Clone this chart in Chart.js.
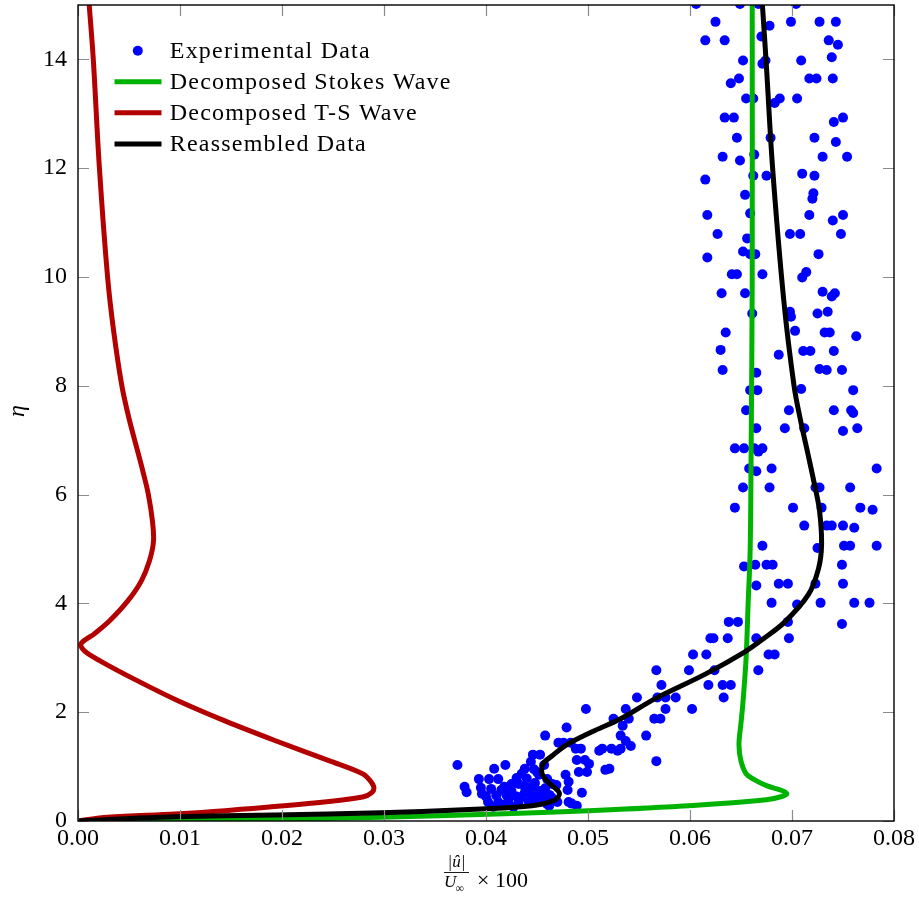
<!DOCTYPE html>
<html>
<head>
<meta charset="utf-8">
<script src="https://cdn.jsdelivr.net/npm/chart.js@4.4.0/dist/chart.umd.min.js"></script>
<style>
  html, body { margin: 0; padding: 0; background: #fff; }
</style>
</head>
<body>
<canvas id="profileChart" width="919" height="903"></canvas>
<script>
// axis ticks
const xTicks = [0, 0.01, 0.02, 0.03, 0.04, 0.05, 0.06, 0.07, 0.08];
const yTicks = [0, 2, 4, 6, 8, 10, 12, 14];

// experimental data, one line per measuring height (eta / |u|)
const expEta = [
  15.02, 15.02, 15.02, 15.02,
  14.69, 14.69, 14.69, 14.69, 14.62,
  14.35, 14.35, 14.35, 14.42, 14.27,
  13.98, 13.98, 13.98, 13.92, 14.04,
  13.65, 13.65, 13.65, 13.65, 13.56,
  13.28, 13.28, 13.28, 13.28, 13.20,
  12.93, 12.93, 12.93, 12.85,
  12.56, 12.56, 12.56, 12.48,
  12.21, 12.21, 12.21, 12.14, 12.25,
  11.86, 11.86, 11.86, 11.79, 11.90,
  11.51, 11.54, 11.44,
  11.14, 11.14, 11.14, 11.17, 11.04,
  10.79, 10.79, 10.79, 10.79, 10.71,
  10.42, 10.42, 10.42, 10.36, 10.47,
  10.05, 10.05, 10.05, 9.99, 10.09,
  9.70, 9.70, 9.70, 9.73, 9.64,
  9.33, 9.33, 9.36, 9.36, 9.27,
  8.98, 8.98, 8.98, 9.01, 8.91,
  8.64, 8.64, 8.64, 8.66, 8.57,
  8.29, 8.29, 8.29, 8.24, 8.31,
  7.92, 7.92, 7.92, 7.94,
  7.55, 7.55, 7.55, 7.55, 7.50,
  7.22, 7.22, 7.22, 7.22, 7.17,
  6.85, 6.85, 6.85, 6.85, 6.79,
  6.48, 6.48, 6.48, 6.43,
  6.13, 6.13, 6.13, 6.13, 6.13,
  5.76, 5.76, 5.76, 5.76, 5.72,
  5.43, 5.43, 5.43, 5.43, 5.39,
  5.06, 5.06, 5.06, 5.06, 5.02,
  4.71, 4.71, 4.71, 4.71, 4.68,
  4.36, 4.36, 4.36, 4.36, 4.33,
  4.01, 4.01, 4.01, 4.01, 3.98,
  3.66, 3.66, 3.66, 3.62,
  3.36, 3.36, 3.36, 3.36, 3.36,
  3.06, 3.06, 3.06, 3.06,
  2.77, 2.77, 2.77, 2.77,
  2.50, 2.50, 2.50, 2.50,
  2.27, 2.27, 2.27, 2.27, 2.27,
  2.06, 2.06, 2.06, 2.06,
  1.88, 1.88, 1.88, 1.88,
  1.72, 1.75, 1.57, 1.57, 1.57,
  1.44, 1.44, 1.44, 1.47,
  1.33, 1.33, 1.33, 1.33, 1.33, 1.38,
  1.22, 1.22, 1.29, 1.29,
  1.12, 1.12, 1.09, 1.10,
  1.03, 1.03, 1.03, 1.05,
  0.96, 0.96, 0.96, 0.94,
  0.87, 0.85, 0.90, 0.90, 0.90,
  0.77, 0.77, 0.77, 0.77, 0.79,
  0.63, 0.63, 0.63, 0.61, 0.59, 0.68, 0.66, 0.72,
  0.53, 0.53, 0.57, 0.57, 0.52, 0.50, 0.48,
  0.44, 0.44, 0.45, 0.42, 0.60,
  0.35, 0.35, 0.35, 0.35, 0.35, 0.35, 0.35,
  0.39, 0.28, 0.31, 0.26, 0.26, 0.30, 0.32, 0.28,
  0.45, 0.55, 0.70, 0.38, 0.48, 0.52, 0.45, 0.55,
  0.78, 0.85, 0.95, 0.68, 0.47, 0.50, 0.63, 0.68
];
const expX = [
  0.0606, 0.0649, 0.0667, 0.0704,
  0.0625, 0.0699, 0.0727, 0.0743, 0.0678,
  0.0615, 0.0634, 0.0736, 0.0670, 0.0745,
  0.0652, 0.0674, 0.0709, 0.0671, 0.0739,
  0.0648, 0.0717, 0.0724, 0.0740, 0.0640,
  0.0655, 0.0662, 0.0688, 0.0705, 0.0683,
  0.0634, 0.0643, 0.0750, 0.0741,
  0.0646, 0.0679, 0.0722, 0.0743,
  0.0632, 0.0730, 0.0754, 0.0649, 0.0663,
  0.0662, 0.0675, 0.0722, 0.0615, 0.0710,
  0.0654, 0.0721, 0.0720,
  0.0617, 0.0717, 0.0750, 0.0659, 0.0740,
  0.0627, 0.0698, 0.0708, 0.0748, 0.0656,
  0.0659, 0.0664, 0.0726, 0.0617, 0.0652,
  0.0641, 0.0646, 0.0671, 0.0710, 0.0714,
  0.0631, 0.0654, 0.0742, 0.0730, 0.0739,
  0.0661, 0.0725, 0.0698, 0.0735, 0.0699,
  0.0635, 0.0732, 0.0737, 0.0703, 0.0763,
  0.0711, 0.0718, 0.0741, 0.0630, 0.0687,
  0.0632, 0.0734, 0.0749, 0.0665, 0.0727,
  0.0659, 0.0666, 0.0760, 0.0709,
  0.0655, 0.0697, 0.0741, 0.0758, 0.0760,
  0.0665, 0.0693, 0.0712, 0.0764, 0.0750,
  0.0644, 0.0653, 0.0663, 0.0671, 0.0667,
  0.0658, 0.0680, 0.0783, 0.0665,
  0.0652, 0.0678, 0.0723, 0.0727, 0.0757,
  0.0644, 0.0701, 0.0729, 0.0767, 0.0779,
  0.0712, 0.0734, 0.0739, 0.0750, 0.0761,
  0.0671, 0.0751, 0.0757, 0.0783, 0.0725,
  0.0664, 0.0675, 0.0681, 0.0749, 0.0653,
  0.0687, 0.0696, 0.0723, 0.0750, 0.0665,
  0.0680, 0.0728, 0.0761, 0.0776, 0.0705,
  0.0638, 0.0647, 0.0696, 0.0749,
  0.0620, 0.0623, 0.0637, 0.0665, 0.0697,
  0.0603, 0.0616, 0.0677, 0.0683,
  0.0567, 0.0599, 0.0624, 0.0667,
  0.0572, 0.0618, 0.0632, 0.0640,
  0.0548, 0.0568, 0.0576, 0.0586, 0.0633,
  0.0498, 0.0537, 0.0576, 0.0602,
  0.0525, 0.0540, 0.0565, 0.0571,
  0.0479, 0.0534, 0.0458, 0.0532, 0.0557,
  0.0471, 0.0476, 0.0483, 0.0537,
  0.0488, 0.0493, 0.0514, 0.0523, 0.0532, 0.0542,
  0.0446, 0.0453, 0.0511, 0.0529,
  0.0489, 0.0497, 0.0444, 0.0567,
  0.0372, 0.0419, 0.0457, 0.0501,
  0.0408, 0.0438, 0.0521, 0.0517,
  0.0435, 0.0478, 0.0491, 0.0499, 0.0450,
  0.0393, 0.0403, 0.0412, 0.0460, 0.0430,
  0.0379, 0.0438, 0.0445, 0.0395, 0.0405, 0.0425, 0.0469, 0.0481,
  0.0381, 0.0455, 0.0415, 0.0480, 0.0494, 0.0443, 0.0420,
  0.0435, 0.0464, 0.0400, 0.0448, 0.0458,
  0.0402, 0.0412, 0.0432, 0.0442, 0.0452, 0.0470, 0.0481,
  0.0422, 0.0489, 0.0460, 0.0407, 0.0427, 0.0418, 0.0484, 0.0462,
  0.0445, 0.0452, 0.0448, 0.0455, 0.0462, 0.0438, 0.0430, 0.0425,
  0.0440, 0.0452, 0.0447, 0.0465, 0.0410, 0.0396, 0.0418, 0.0432
];

// decomposed Stokes wave
const stokesEta = [0, 0.015, 0.04, 0.07, 0.13, 0.19, 0.285, 0.39, 0.45, 0.5, 0.56, 0.65, 0.76, 0.87, 1.1, 1.4, 1.8, 2.2, 3.0, 4.0, 5.0, 7.0, 10.0, 15.0];
const stokesX = [0, 0.010, 0.0227, 0.0297, 0.0410, 0.0501, 0.0603, 0.0675, 0.0690, 0.0695, 0.0690, 0.0675, 0.0663, 0.0655, 0.0650, 0.0648, 0.0650, 0.0652, 0.0655, 0.0657, 0.0659, 0.0660, 0.0661, 0.0661];

// decomposed T-S wave
const tsEta = [0, 0.07, 0.13, 0.19, 0.32, 0.44, 0.52, 0.62, 0.75, 0.87, 1.11, 1.48, 1.84, 2.21, 2.58, 2.94, 3.13, 3.26, 3.44, 3.68, 4.05, 4.41, 4.78, 5.14, 5.51, 6.0, 6.4, 6.83, 7.4, 8.0, 9.0, 10.0, 12.0, 14.0, 15.0];
const tsX = [0, 0.0029, 0.0095, 0.0144, 0.0226, 0.0279, 0.0288, 0.0290, 0.0286, 0.0279, 0.0246, 0.0193, 0.0144, 0.0098, 0.0058, 0.0022, 0.0006, 0.0003, 0.0016, 0.0031, 0.0049, 0.0062, 0.0070, 0.0074, 0.0073, 0.0069, 0.0064, 0.0058, 0.0050, 0.0043, 0.0035, 0.0029, 0.0021, 0.0015, 0.0011];

// reassembled data
const reEta = [0, 0.04, 0.08, 0.11, 0.15, 0.22, 0.28, 0.38, 0.5, 0.6, 0.71, 0.87, 1.05, 1.2, 1.4, 1.64, 1.88, 2.25, 2.7, 3.1, 3.35, 3.66, 4.16, 4.64, 5.08, 5.7, 6.19, 6.8, 7.4, 8.0, 9.56, 12.0, 13.85, 15.0];
const reX = [0, 0.0045, 0.0095, 0.0193, 0.0297, 0.0395, 0.0445, 0.0467, 0.0472, 0.0468, 0.0461, 0.0455, 0.0456, 0.0465, 0.0479, 0.0504, 0.0532, 0.0566, 0.0615, 0.0653, 0.0672, 0.0693, 0.0716, 0.0726, 0.0729, 0.0727, 0.0722, 0.0715, 0.0708, 0.0702, 0.0692, 0.0681, 0.0675, 0.0671];

const BLUE = '#0000ff';
const GREEN = '#00b300';
const RED = '#b30000';
const BLACK = '#000000';
const SERIF = '"Liberation Serif", "Times New Roman", serif';

function pairs(xs, etas) {
  return xs.map((x, i) => ({ x: x, y: etas[i] }));
}

const legendItems = [
  { label: 'Experimental Data', color: BLUE, dot: true },
  { label: 'Decomposed Stokes Wave', color: GREEN },
  { label: 'Decomposed T-S Wave', color: RED },
  { label: 'Reassembled Data', color: BLACK }
];

const decorPlugin = {
  id: 'decor',
  afterDatasetsDraw(chart) {
    const ctx = chart.ctx;
    const a = chart.chartArea;
    const xs = chart.scales.x;
    const ys = chart.scales.y;
    ctx.save();
    // inner ticks on all four sides
    ctx.strokeStyle = '#8c8c8c';
    ctx.lineWidth = 1.2;
    ctx.beginPath();
    xTicks.forEach(v => {
      const px = Math.round(xs.getPixelForValue(v)) + 0.5;
      ctx.moveTo(px, a.bottom); ctx.lineTo(px, a.bottom - 11);
      ctx.moveTo(px, a.top); ctx.lineTo(px, a.top + 11);
    });
    yTicks.forEach(v => {
      const py = Math.round(ys.getPixelForValue(v)) + 0.5;
      ctx.moveTo(a.left, py); ctx.lineTo(a.left + 11, py);
      ctx.moveTo(a.right, py); ctx.lineTo(a.right - 11, py);
    });
    ctx.stroke();
    // frame
    ctx.strokeStyle = '#000';
    ctx.lineWidth = 1.4;
    ctx.strokeRect(a.left, a.top, a.right - a.left, a.bottom - a.top);
    ctx.restore();
  },
  afterDraw(chart) {
    const ctx = chart.ctx;
    ctx.save();
    // legend, inside the plot, top left
    const rows = [50.7, 81.7, 112.8, 144.1];
    ctx.font = '24px ' + SERIF;
    ctx.letterSpacing = '1.2px';
    ctx.textAlign = 'left';
    ctx.textBaseline = 'alphabetic';
    legendItems.forEach((it, i) => {
      const y = rows[i];
      if (it.dot) {
        ctx.fillStyle = it.color;
        ctx.beginPath();
        ctx.arc(137.8, y, 5, 0, Math.PI * 2);
        ctx.fill();
      } else {
        ctx.strokeStyle = it.color;
        ctx.lineWidth = 5;
        ctx.beginPath();
        ctx.moveTo(114.5, y);
        ctx.lineTo(161.5, y);
        ctx.stroke();
      }
      ctx.fillStyle = '#000';
      ctx.fillText(it.label, 169.8, y + 6.8);
    });
    ctx.letterSpacing = '0px';

    // y title
    ctx.save();
    ctx.translate(18, 411);
    ctx.rotate(-Math.PI / 2);
    ctx.font = 'italic 24px ' + SERIF;
    ctx.textAlign = 'center';
    ctx.textBaseline = 'middle';
    ctx.fillStyle = '#000';
    ctx.fillText('η', 0, 0);
    ctx.restore();

    // x title: |u^| / U_inf  x 100
    ctx.fillStyle = '#000';
    ctx.textAlign = 'center';
    ctx.textBaseline = 'alphabetic';
    ctx.font = 'italic 17px ' + SERIF;
    ctx.fillText('|û|', 456.5, 867);
    ctx.strokeStyle = '#000';
    ctx.lineWidth = 0.9;
    ctx.beginPath();
    ctx.moveTo(444, 872.5);
    ctx.lineTo(469, 872.5);
    ctx.stroke();
    ctx.textAlign = 'left';
    ctx.fillText('U', 444, 887);
    ctx.font = '12px ' + SERIF;
    ctx.fillText('∞', 455.5, 892);
    ctx.font = '22px ' + SERIF;
    ctx.fillText('× 100', 477, 887);
    ctx.restore();
  }
};

const ctx = document.getElementById('profileChart').getContext('2d');
const profileChart = new Chart(ctx, {
  type: 'scatter',
  data: {
    datasets: [
      {
        label: 'Experimental Data',
        data: pairs(expX, expEta),
        backgroundColor: BLUE,
        borderColor: BLUE,
        pointRadius: 5,
        pointBorderWidth: 0,
        showLine: false,
        clip: 0,
        order: 4
      },
      {
        label: 'Decomposed Stokes Wave',
        data: pairs(stokesX, stokesEta),
        borderColor: GREEN,
        borderWidth: 5,
        pointRadius: 0,
        showLine: true,
        tension: 0.35,
        clip: 0,
        order: 3
      },
      {
        label: 'Decomposed T-S Wave',
        data: pairs(tsX, tsEta),
        borderColor: RED,
        borderWidth: 5,
        pointRadius: 0,
        showLine: true,
        tension: 0.35,
        clip: 0,
        order: 2
      },
      {
        label: 'Reassembled Data',
        data: pairs(reX, reEta),
        borderColor: BLACK,
        borderWidth: 5,
        pointRadius: 0,
        showLine: true,
        tension: 0.35,
        clip: 0,
        order: 1
      }
    ]
  },
  options: {
    responsive: false,
    animation: false,
    devicePixelRatio: 1,
    layout: { padding: { top: 3, right: 25, left: 0, bottom: 0 } },
    plugins: {
      legend: { display: false },
      tooltip: { enabled: false }
    },
    scales: {
      x: {
        type: 'linear',
        min: 0,
        max: 0.08,
        afterBuildTicks: s => { s.ticks = xTicks.map(v => ({ value: v })); },
        afterFit: s => { s.height = 82; s.paddingLeft = 0; s.paddingRight = 0; },
        grid: { display: false, drawTicks: false },
        border: { display: false },
        ticks: {
          autoSkip: false,
          maxRotation: 0,
          padding: 3,
          color: '#000',
          font: { family: SERIF, size: 24 },
          callback: v => Number(v).toFixed(2)
        }
      },
      y: {
        type: 'linear',
        min: 0,
        max: 15,
        afterBuildTicks: s => { s.ticks = yTicks.map(v => ({ value: v })); },
        afterFit: s => { s.width = 78; s.paddingTop = 0; s.paddingBottom = 0; },
        grid: { display: false, drawTicks: false },
        border: { display: false },
        ticks: {
          autoSkip: false,
          padding: 11,
          color: '#000',
          font: { family: SERIF, size: 24 },
          callback: v => String(v)
        }
      }
    }
  },
  plugins: [decorPlugin]
});
</script>
</body>
</html>
